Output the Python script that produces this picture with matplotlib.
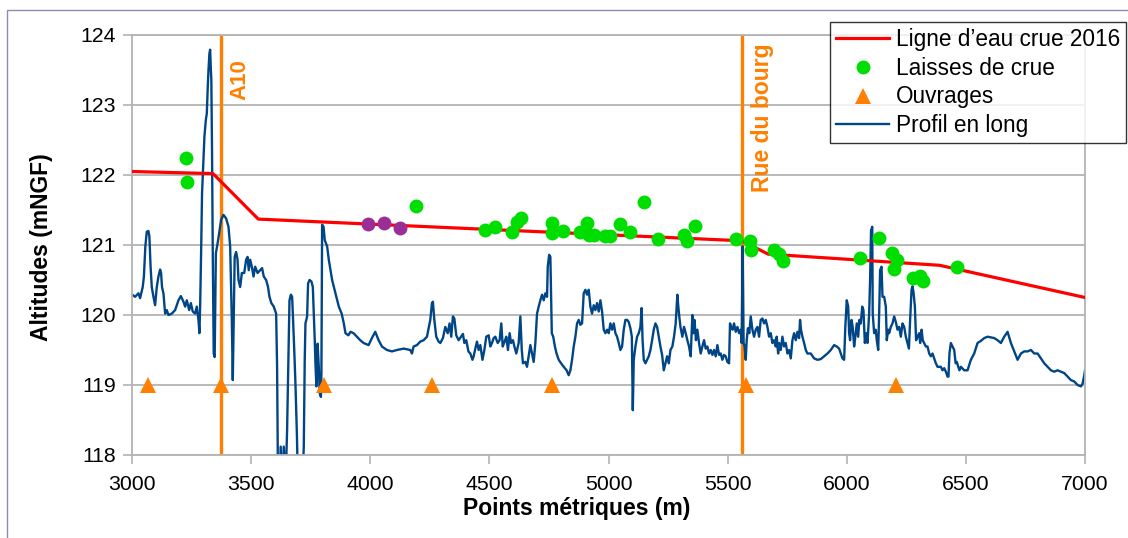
import matplotlib
matplotlib.use("Agg")
import matplotlib.pyplot as plt
from matplotlib.patches import Rectangle
from matplotlib.lines import Line2D

plt.rcParams["font.family"] = ["Liberation Sans", "DejaVu Sans"]

# --- ligne d'eau crue 2016 ---
ligne_pm = [3000, 3340, 3530, 5560, 5670, 6390, 7000]
ligne_z = [122.05, 122.02, 121.37, 121.06, 120.87, 120.71, 120.25]

# --- laisses de crue ---
laisses_pm = [3227, 3232, 4192, 4483, 4525, 4595, 4616, 4634, 4761, 4763,
              4809, 4879, 4910, 4917, 4938, 4987, 5008, 5050, 5092, 5151,
              5209, 5316, 5330, 5362, 5536, 5593, 5599, 5694, 5716, 5733,
              6056, 6136, 6189, 6213, 6199, 6276, 6308, 6322, 6462]
laisses_z = [122.24, 121.90, 121.56, 121.22, 121.26, 121.19, 121.33, 121.39, 121.31, 121.17,
             121.20, 121.18, 121.31, 121.14, 121.14, 121.13, 121.13, 121.30, 121.19, 121.61,
             121.08, 121.14, 121.06, 121.27, 121.08, 121.05, 120.93, 120.93, 120.87, 120.77,
             120.82, 121.10, 120.88, 120.79, 120.65, 120.53, 120.55, 120.49, 120.68]

# laisses hors légende (violet)
laisses2_pm = [3990, 4056, 4126]
laisses2_z = [121.30, 121.32, 121.24]

# --- ouvrages ---
ouvrages_pm = [3066, 3372, 3804, 4259, 4763, 5578, 6206]
ouvrages_z = [119, 119, 119, 119, 119, 119, 119]

# --- repères verticaux ---
reperes_pm = [3372, 5562]
reperes_nom = ["A10", "Rue du bourg"]

# --- profil en long ---
profil_pm = [
    3001, 3013, 3027, 3034, 3045, 3050, 3056, 3062, 3069, 3073,
    3078, 3083, 3090, 3097, 3104, 3111, 3118, 3122, 3126, 3132,
    3139, 3146, 3153, 3167, 3181, 3195, 3205, 3216, 3223, 3230,
    3240, 3247, 3255, 3265, 3272, 3279, 3283, 3286, 3290, 3294,
    3300, 3304, 3310, 3314, 3318, 3321, 3325, 3328, 3331, 3333,
    3336, 3339, 3343, 3347, 3352, 3359, 3366, 3374, 3384, 3395,
    3405, 3412, 3419, 3423, 3427, 3431, 3437, 3443, 3447, 3454,
    3461, 3471, 3479, 3485, 3490, 3496, 3503, 3510, 3517, 3527,
    3538, 3546, 3553, 3563, 3571, 3577, 3585, 3595, 3602, 3605,
    3609, 3613, 3620, 3624, 3630, 3637, 3644, 3651, 3655, 3661,
    3667, 3672, 3675, 3681, 3686, 3692, 3697, 3707, 3714, 3721,
    3725, 3728, 3735, 3739, 3745, 3753, 3759, 3763, 3767, 3770,
    3774, 3779, 3784, 3788, 3793, 3795, 3798, 3804, 3809, 3819,
    3826, 3840, 3854, 3868, 3880, 3889, 3896, 3908, 3917, 3930,
    3944, 3958, 3972, 3993, 4007, 4021, 4035, 4049, 4070, 4091,
    4112, 4140, 4168, 4175, 4182, 4196, 4210, 4224, 4238, 4252,
    4259, 4263, 4269, 4277, 4287,
    4294, 4305, 4315, 4325, 4333, 4340, 4347, 4353, 4361, 4371,
    4381, 4389, 4395, 4403, 4412, 4420, 4429, 4434, 4441, 4448,
    4455, 4462, 4471, 4479, 4487, 4497, 4504, 4511, 4518, 4525,
    4535, 4543, 4550, 4556, 4564, 4571, 4578, 4585, 4591, 4599,
    4605, 4613, 4623, 4630, 4636, 4641, 4651, 4658, 4665, 4672,
    4679, 4686, 4693, 4700, 4707, 4714, 4721, 4728, 4735, 4742,
    4745, 4751, 4756, 4759, 4762, 4768, 4775, 4782, 4791, 4801,
    4812, 4824, 4833, 4840, 4847, 4854, 4861, 4868, 4875, 4882,
    4889, 4896, 4903, 4910, 4917, 4924, 4931, 4938, 4945, 4952,
    4959, 4966, 4973, 4980, 4987, 4994, 5001, 5008, 5015, 5022,
    5029, 5036, 5043, 5050, 5057, 5064, 5071, 5078, 5085, 5092,
    5098, 5102, 5106, 5113, 5120, 5127, 5134, 5139, 5143, 5148,
    5155, 5162, 5169, 5176, 5183, 5190, 5197, 5204, 5211, 5218,
    5225, 5232, 5239, 5246, 5253, 5260, 5268, 5275, 5282, 5289,
    5293, 5297, 5302, 5310, 5317, 5324, 5331, 5338, 5345, 5352,
    5356, 5361, 5367, 5373, 5380, 5387, 5394, 5401, 5408, 5415,
    5422, 5429, 5436, 5443, 5450, 5457, 5464, 5471, 5478, 5485,
    5492, 5499, 5506, 5510, 5515, 5521, 5527, 5534, 5541, 5548,
    5555, 5559, 5563, 5567, 5571, 5576, 5580, 5585, 5591, 5597,
    5604, 5611, 5618, 5625, 5632,
    5639, 5646, 5653, 5660, 5667, 5674, 5681, 5688, 5695, 5702,
    5706, 5712, 5716, 5723, 5730, 5737, 5744, 5751, 5758, 5765,
    5772, 5779, 5786, 5793, 5800, 5804, 5808, 5814, 5821, 5828,
    5835, 5849, 5863, 5877, 5891, 5905, 5919, 5933, 5947, 5958,
    5968, 5975, 5982, 5989, 5994, 6000, 6006, 6010, 6014, 6020,
    6025, 6031, 6036, 6042, 6048, 6053, 6059, 6065, 6070, 6076,
    6081, 6087, 6094, 6098, 6102, 6107, 6109, 6115, 6122, 6126,
    6132, 6136, 6140, 6146, 6150, 6157, 6164, 6168, 6174, 6178,
    6185, 6192, 6199, 6206, 6213, 6220, 6227, 6234, 6241, 6248,
    6255, 6261, 6266, 6272, 6276, 6280, 6286, 6291, 6297, 6304,
    6308, 6314, 6319, 6325, 6332, 6339, 6346, 6353, 6360, 6367,
    6374, 6381, 6388, 6395, 6402, 6409, 6416, 6423, 6427, 6431,
    6437, 6444, 6451, 6457, 6462, 6468, 6473, 6479, 6493, 6507,
    6521, 6535, 6549, 6563, 6577, 6591, 6605, 6619, 6633, 6647,
    6661, 6675, 6689, 6703, 6717, 6731, 6745, 6759, 6773, 6787,
    6801, 6815, 6829, 6843, 6857, 6871, 6885, 6899, 6913, 6927,
    6941, 6955, 6969, 6983, 6990, 6997, 7000,
]
profil_z = [
    120.29, 120.26, 120.31, 120.24, 120.40, 120.55, 120.98, 121.19, 121.20, 121.12,
    120.69, 120.40, 120.26, 120.14, 120.40, 120.55, 120.65, 120.60, 120.40, 120.31,
    120.02, 120.07, 120.00, 120.02, 120.07, 120.21, 120.27, 120.19, 120.12, 120.21,
    120.07, 120.17, 120.05, 120.02, 120.12, 119.93, 119.74, 120.12, 120.88, 121.74,
    122.21, 122.55, 122.79, 122.88, 123.26, 123.50, 123.74, 123.79, 123.50, 123.36,
    122.31, 120.88, 119.45, 119.40, 120.88, 121.02, 121.17, 121.36, 121.43, 121.38,
    121.26, 120.98, 119.93, 119.07, 119.93, 120.83, 120.90, 120.79, 120.50, 120.40,
    120.60, 120.60, 120.79, 120.83, 120.64, 120.79, 120.69, 120.55, 120.69, 120.60,
    120.64, 120.67, 120.55, 120.50, 120.40, 120.26, 120.17, 120.12, 120.05, 120.02,
    119.26, 117.50, 117.50, 118.12, 117.50, 118.12, 117.50, 118.36, 119.07, 120.21,
    120.29, 120.26, 120.02, 119.50, 119.02, 118.31, 117.50, 117.50, 117.50, 118.12,
    119.36, 119.88, 119.98, 120.45, 120.50, 120.48, 120.40, 120.02, 119.64, 119.31,
    118.98, 119.59, 119.26, 118.88, 118.83, 119.17, 121.29, 121.26, 121.07, 120.98,
    120.79, 120.50, 120.31, 120.12, 120.02, 119.88, 119.74, 119.71, 119.76, 119.74,
    119.69, 119.64, 119.60, 119.57, 119.67, 119.76, 119.64, 119.55, 119.50, 119.48,
    119.50, 119.52, 119.50, 119.45, 119.55, 119.57, 119.62, 119.64, 119.69, 119.93,
    120.17, 120.19, 119.93, 119.69, 119.62,
    119.60, 119.67, 119.83, 119.74, 119.88, 119.69, 119.98, 119.95, 119.71, 119.64,
    119.69, 119.73, 119.60, 119.64, 119.48, 119.45, 119.36, 119.41, 119.52, 119.62,
    119.50, 119.57, 119.36, 119.50, 119.69, 119.71, 119.55, 119.60, 119.67, 119.69,
    119.60, 119.64, 119.88, 119.55, 119.62, 119.69, 119.50, 119.74, 119.60, 119.64,
    119.55, 119.45, 119.60, 119.98, 119.50, 119.31, 119.33, 119.26, 119.41, 119.57,
    119.45, 119.33, 119.60, 120.02, 120.12, 120.21, 120.29, 120.21, 120.31, 120.26,
    120.69, 120.86, 120.83, 120.26, 119.74, 119.69, 119.55, 119.45, 119.36, 119.31,
    119.26, 119.21, 119.14, 119.21, 119.36, 119.55, 119.69, 119.88, 119.93, 119.86,
    119.88, 120.31, 120.36, 120.29, 120.36, 120.12, 120.02, 120.14, 120.07, 120.17,
    120.05, 120.21, 120.05, 119.79, 119.74, 119.79, 119.74, 119.88, 119.79, 119.88,
    119.74, 119.69, 119.60, 119.50, 119.55, 119.79, 119.93, 119.93, 119.90, 119.81,
    119.69, 118.64, 119.36, 119.55, 119.69, 119.74, 119.83, 120.10, 119.64, 119.36,
    119.31, 119.36, 119.41, 119.50, 119.64, 119.79, 119.88, 119.83, 119.69, 119.55,
    119.43, 119.21, 119.31, 119.41, 119.31, 119.50, 119.55, 119.69, 119.88, 120.29,
    120.12, 119.98, 119.83, 119.69, 119.83, 119.74, 119.64, 119.55, 119.41, 120.00,
    119.74, 119.93, 119.64, 119.79, 119.60, 119.45, 119.55, 119.64, 119.52, 119.55,
    119.45, 119.50, 119.43, 119.50, 119.41, 119.57, 119.43, 119.45, 119.36, 119.43,
    119.41, 119.33, 119.31, 119.88, 119.83, 119.79, 119.88, 119.76, 119.83, 119.74,
    119.79, 119.60, 120.98, 119.60, 119.55, 119.36, 119.64, 119.81, 119.74, 119.98,
    119.79, 119.69, 119.79, 119.83, 119.69,
    119.93, 119.95, 119.88, 119.93, 119.83, 119.69, 119.74, 119.60, 119.64, 119.55,
    119.69, 119.45, 119.60, 119.50, 119.69, 119.55, 119.60, 119.45, 119.50, 119.38,
    119.64, 119.74, 119.64, 119.76, 119.67, 119.93, 119.79, 119.69, 119.60, 119.50,
    119.45, 119.45, 119.38, 119.36, 119.37, 119.41, 119.45, 119.50, 119.57, 119.55,
    119.52, 119.45, 119.38, 119.36, 119.83, 120.21, 120.12, 119.74, 119.64, 119.93,
    119.83, 119.55, 119.69, 119.88, 119.69, 119.93, 119.88, 120.12, 120.07, 119.60,
    119.74, 119.60, 120.02, 120.50, 121.21, 121.26, 120.02, 119.74, 119.79, 119.64,
    119.50, 120.02, 120.64, 120.69, 120.26, 120.26, 120.12, 119.64, 119.79, 119.74,
    119.83, 119.88, 119.98, 119.90, 119.79, 119.83, 119.69, 119.88, 119.83, 119.69,
    119.60, 119.52, 119.93, 120.36, 120.41, 120.33, 120.12, 119.64, 119.69, 119.74,
    119.60, 119.79, 119.64, 119.60, 119.55, 119.55, 119.45, 119.41, 119.45, 119.38,
    119.31, 119.26, 119.26, 119.26, 119.21, 119.24, 119.19, 119.12, 119.12, 119.45,
    119.60, 119.55, 119.50, 119.31, 119.33, 119.26, 119.21, 119.26, 119.21, 119.21,
    119.36, 119.45, 119.60, 119.63, 119.67, 119.69, 119.68, 119.67, 119.64, 119.60,
    119.69, 119.76, 119.60, 119.48, 119.36, 119.45, 119.48, 119.48, 119.50, 119.45,
    119.45, 119.38, 119.31, 119.26, 119.21, 119.19, 119.21, 119.19, 119.17, 119.12,
    119.07, 119.05, 119.00, 118.98, 119.02, 119.14, 119.21,
]

ROUGE = "#ff0000"
VERT = "#00dd00"
ORANGE = "#ff8000"
BLEU = "#004586"
VIOLET = "#9b2d96"
GRIS = "#b3b3b3"

W, H = 1128, 538
fig = plt.figure(figsize=(W / 100, H / 100), dpi=100)
ax = fig.add_axes([132 / W, 1 - 455 / H, (1085 - 132) / W, (455 - 35) / H])

# cadre du graphique
fig.patches.append(Rectangle((7 / W, -0.05), 1.2, 1 - 10 / H + 0.05,
                             transform=fig.transFigure, fill=False,
                             edgecolor="#8c8cb4", lw=1))

for pm in reperes_pm:
    ax.axvline(pm, color=ORANGE, lw=2.4, zorder=1)

ax.plot(profil_pm, profil_z, color=BLEU, lw=1.7, zorder=2)
ax.plot(ligne_pm, ligne_z, color=ROUGE, lw=2.3, zorder=3)
ax.plot(laisses_pm, laisses_z, "o", color=VERT, ms=10, mew=0, zorder=4)
ax.plot(laisses2_pm, laisses2_z, "o", color=VIOLET, ms=10, mew=0, zorder=4)
ax.plot(ouvrages_pm, ouvrages_z, "^", color=ORANGE, ms=11, mew=0, zorder=5)

ax.text(reperes_pm[0] + 80, 123.37, reperes_nom[0], rotation=90, color=ORANGE,
        fontsize=16, fontweight="bold", ha="center", va="center")
ax.text(reperes_pm[1] + 85, 122.82, reperes_nom[1], rotation=90, color=ORANGE,
        fontsize=16.5, fontweight="bold", ha="center", va="center")

ax.set_xlim(3000, 7000)
ax.set_ylim(118, 124)
ax.set_xticks(range(3000, 7001, 500))
ax.set_yticks(range(118, 125))
ax.yaxis.grid(True, color=GRIS, lw=1.3)
ax.set_axisbelow(True)
for sp in ax.spines.values():
    sp.set_color(GRIS)
    sp.set_linewidth(1.3)
ax.tick_params(length=6.5, width=1.2, color=GRIS, labelsize=15.3, pad=5)
ax.tick_params(axis="x", pad=8)

fig.text(577 / W, 1 - 508 / H, "Points métriques (m)", fontsize=16.5,
         fontweight="bold", ha="center", va="center")
fig.text(42 / W, 1 - 247 / H, "Altitudes (mNGF)", fontsize=16.5,
         fontweight="bold", ha="center", va="center", rotation=90)

handles = [
    Line2D([], [], color=ROUGE, lw=2.3),
    Line2D([], [], ls="", marker="o", color=VERT, ms=10, mew=0),
    Line2D([], [], ls="", marker="^", color=ORANGE, ms=11, mew=0),
    Line2D([], [], color=BLEU, lw=1.7),
]
labels = ["Ligne d’eau crue 2016", "Laisses de crue", "Ouvrages", "Profil en long"]
leg = fig.legend(handles, labels, loc="upper right",
                 bbox_to_anchor=(1126 / W, 1 - 22 / H), fontsize=16.3,
                 frameon=True, fancybox=False, borderaxespad=0,
                 handlelength=2.35, handletextpad=0.3, labelspacing=0.26,
                 borderpad=0.25)
leg.get_frame().set_edgecolor("black")
leg.get_frame().set_linewidth(1)

fig.savefig("out.png", dpi=100)
